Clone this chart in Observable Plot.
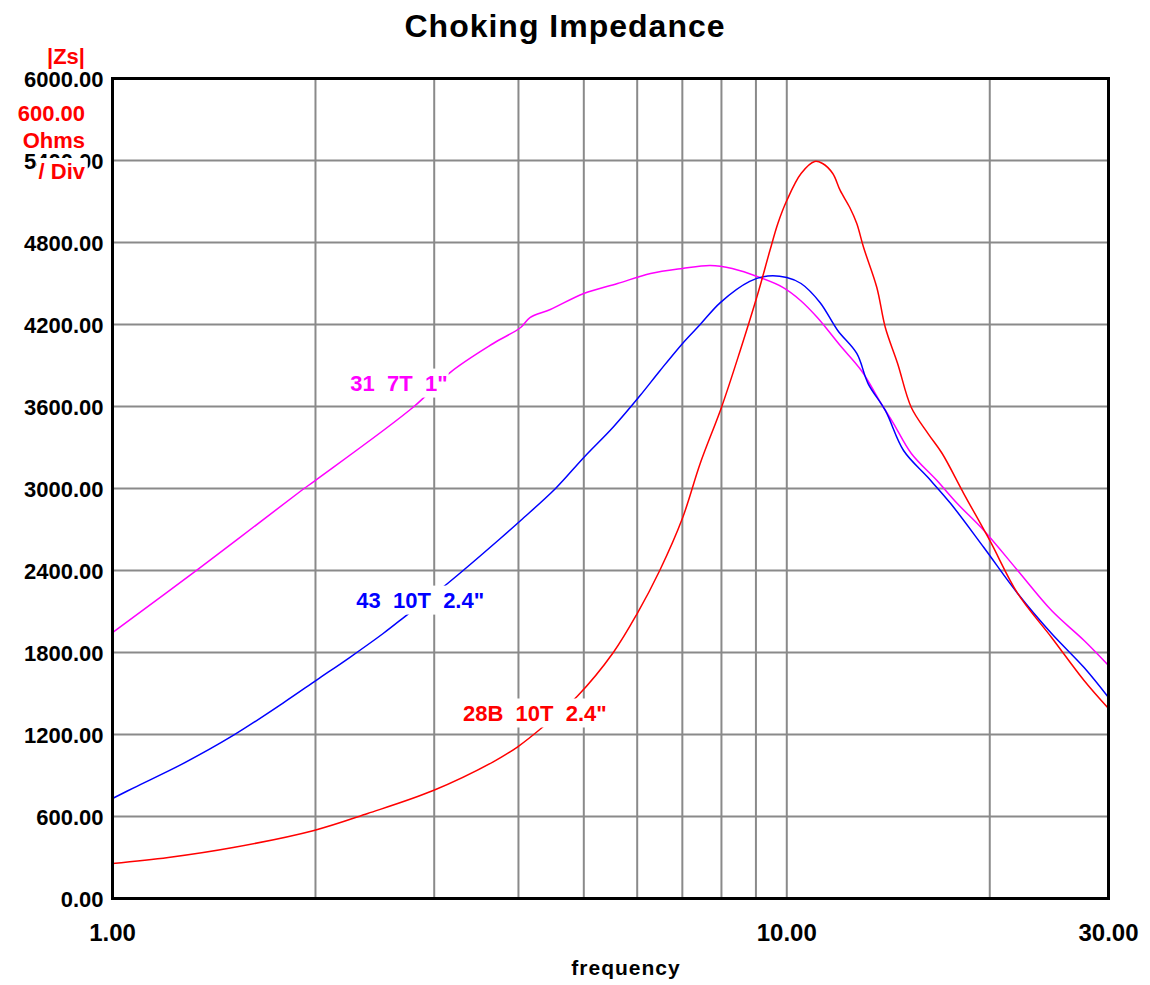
<!DOCTYPE html>
<html>
<head>
<meta charset="utf-8">
<script src="https://cdn.jsdelivr.net/npm/d3@7"></script>
<script src="https://cdn.jsdelivr.net/npm/@observablehq/plot@0.6"></script>
<style>
  html, body { margin: 0; padding: 0; background: #fff; }
  #chart svg { display: block; white-space: pre; }
</style>
</head>
<body>
<div id="chart"></div>
<script>
// ---- data ----
const magentaFreq = [1.00, 1.34, 1.90, 2.00, 2.80, 3.17, 3.67, 4.03, 4.16, 4.46, 5.00, 5.61, 6.28, 7.00, 7.70, 8.30, 9.12, 9.88, 10.48, 11.1, 12.0, 12.9, 13.8, 14.4, 15.3, 16.7, 17.9, 19.6, 22.0, 24.7, 27.6, 30.0];
const magentaZ    = [1946, 2410, 2980, 3060, 3600, 3850, 4061, 4178, 4251, 4310, 4427, 4500, 4573, 4610, 4632, 4610, 4544, 4470, 4376, 4251, 4046, 3863, 3622, 3475, 3256, 3058, 2890, 2693, 2400, 2107, 1888, 1705];

const blueFreq = [1.00, 1.075, 1.27, 1.51, 1.79, 2.01, 2.25, 2.52, 2.75, 3.14, 3.76, 4.03, 4.54, 5.0, 5.53, 6.06, 6.48, 7.0, 7.44, 7.97, 8.81, 9.37, 10.0, 10.5, 11.2, 11.9, 12.7, 13.2, 14.0, 14.9, 16.2, 17.5, 19.6, 22.0, 24.7, 27.6, 30.0];
const blueZ    = [732, 810, 985, 1193, 1430, 1600, 1765, 1939, 2085, 2305, 2634, 2766, 3000, 3227, 3450, 3680, 3860, 4060, 4200, 4360, 4515, 4555, 4544, 4500, 4361, 4156, 3988, 3768, 3571, 3278, 3080, 2890, 2568, 2232, 1939, 1690, 1471];

const redFreq = [1.00, 1.21, 1.51, 1.99, 2.39, 2.99, 3.67, 3.99, 4.36, 4.89, 5.53, 6.0, 6.48, 7.0, 7.44, 8.0, 8.53, 9.06, 9.44, 9.7, 10.0, 10.5, 11.0, 11.3, 11.7, 12.0, 12.4, 12.7, 13.0, 13.6, 14.0, 14.6, 15.3, 16.2, 17.0, 18.3, 20.0, 22.0, 24.7, 27.6, 30.0];
const redZ    = [256, 300, 373, 498, 622, 790, 1000, 1110, 1260, 1480, 1800, 2085, 2400, 2780, 3183, 3593, 4010, 4427, 4741, 4939, 5107, 5305, 5393, 5378, 5305, 5181, 5056, 4939, 4763, 4471, 4178, 3915, 3593, 3402, 3256, 2963, 2620, 2232, 1910, 1595, 1390];

const seriesNames  = ["31  7T  1\"", "43  10T  2.4\"", "28B  10T  2.4\""];
const seriesColors = ["#ff00ff", "#0000ff", "#ff0000"];
const labelFreq = [2.66, 2.86, 4.23];
const labelZ    = [3768, 2180, 1354];

const yTicks = [0, 600, 1200, 1800, 2400, 3000, 3600, 4200, 4800, 5400, 6000];
const xTicks = [1, 10, 30];
const xGrid  = [2, 3, 4, 5, 6, 7, 8, 9, 10, 20];

const title = "Choking Impedance";
const xLabel = "frequency";
const yNote = ["|Zs|", "600.00", "Ohms", "/ Div"];

// ---- build ----
const rows = [];
[[magentaFreq, magentaZ], [blueFreq, blueZ], [redFreq, redZ]].forEach(([fs, zs], i) => {
  fs.forEach((f, j) => rows.push({f, z: zs[j], s: seriesNames[i]}));
});
const labels = seriesNames.map((s, i) => ({s, f: labelFreq[i], z: labelZ[i], c: seriesColors[i]}));

const font = "'Liberation Sans', Arial, sans-serif";

const chart = Plot.plot({
  width: 1150,
  height: 985,
  marginTop: 78,
  marginBottom: 87,
  marginLeft: 112,
  marginRight: 42,
  style: {fontFamily: font, fontSize: "22px", fontWeight: "bold", background: "#fff", color: "#000"},
  x: {type: "log", domain: [1, 30]},
  y: {domain: [0, 6000]},
  color: {domain: seriesNames, range: seriesColors},
  marks: [
    Plot.ruleY(yTicks, {stroke: "#8a8a8a", strokeWidth: 2, strokeOpacity: 1}),
    Plot.ruleX(xGrid, {stroke: "#8a8a8a", strokeWidth: 2, strokeOpacity: 1}),
    Plot.line(rows, {x: "f", y: "z", z: "s", stroke: "s", strokeWidth: 1.5, curve: "catmull-rom"}),
    Plot.text(labels, {x: "f", y: "z", text: "s", fill: "c", stroke: "white", strokeWidth: 4, fontSize: 22, fontWeight: "bold", letterSpacing: 2, className: "series-labels"}),
    Plot.axisY({ticks: yTicks, tickSize: 0, tickPadding: 9, tickFormat: d => d.toFixed(2), label: null, fontSize: 22, letterSpacing: 1, dy: 1}),
    Plot.axisX({ticks: xTicks, tickSize: 0, tickPadding: 25, tickFormat: d => d.toFixed(2), label: null, fontSize: 24, letterSpacing: 1}),
    Plot.frame({stroke: "#000", strokeWidth: 3})
  ]
});

document.getElementById("chart").appendChild(chart);

const svg = d3.select(chart);

// white boxes behind the series labels (as in the reference)
svg.selectAll(".series-labels text").each(function () {
  const b = this.getBBox();
  const tr = this.getAttribute("transform");
  const r = d3.select(this.parentNode).insert("rect", () => this)
    .attr("x", b.x - 3).attr("y", b.y - 2)
    .attr("width", b.width + 4).attr("height", b.height + 4)
    .attr("fill", "#fff").attr("stroke", "none");
  if (tr) r.attr("transform", tr);
});

svg.append("text")
  .attr("x", 565).attr("y", 37)
  .attr("text-anchor", "middle")
  .attr("font-size", 32).attr("font-weight", "bold").attr("letter-spacing", 1)
  .attr("fill", "#000")
  .text(title);
svg.append("text")
  .attr("x", 626).attr("y", 975)
  .attr("text-anchor", "middle")
  .attr("font-size", 21).attr("font-weight", "bold").attr("letter-spacing", 1)
  .attr("fill", "#000")
  .text(xLabel);
const noteY = [64, 121, 148, 179];
const noteG = svg.append("g");
yNote.forEach((t, i) => {
  const g = noteG.append("g");
  const rect = g.append("rect").attr("fill", "#fff");
  const txt = g.append("text")
    .attr("x", 85).attr("y", noteY[i])
    .attr("text-anchor", "end")
    .attr("font-size", 22).attr("font-weight", "bold")
    .attr("fill", "#ff0000")
    .text(t);
  const b = txt.node().getBBox();
  rect.attr("x", b.x - 2).attr("y", b.y - 1).attr("width", b.width + 4).attr("height", b.height);
});
</script>
</body>
</html>
